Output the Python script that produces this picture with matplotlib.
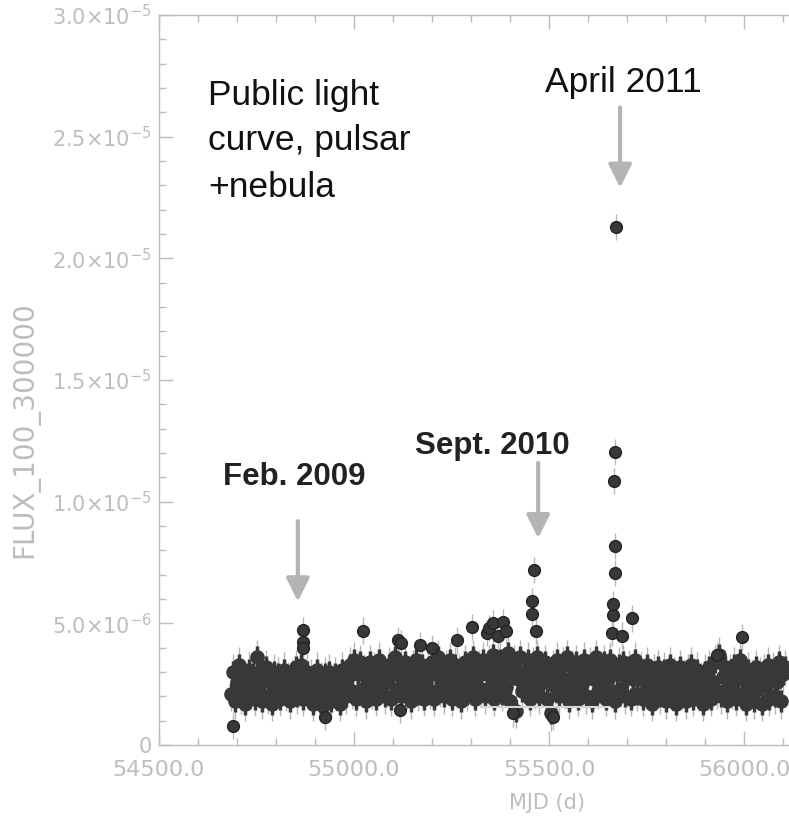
import numpy as np
import matplotlib
matplotlib.use("Agg")
import matplotlib.pyplot as plt
from matplotlib.ticker import MultipleLocator, FixedLocator

# ---------------- data (flux in units of 1e-6) ----------------
BIN_START = 54685      # MJD of first 5-day bin
BIN_DAYS = 5
band_flux = [
    2.1, 3.0, 1.8, 2.6, 3.3, 2.0, 2.8, 1.7, 2.5, 3.1,
    2.2, 2.9, 1.9, 3.6, 2.4, 3.0, 1.8, 2.7, 3.2, 2.0,
    2.6, 1.7, 3.0, 2.3, 2.9, 1.9, 2.5, 3.1, 2.1, 2.7,
    1.8, 2.8, 2.3, 3.2, 2.0, 2.6, 3.3, 1.9, 2.4, 3.0,
    2.2, 2.8, 1.7, 2.5, 3.1, 2.0, 2.7, 1.6, 2.9, 2.3,
    3.0, 1.8, 2.5, 2.9, 2.1, 2.6, 1.7, 3.1, 2.4, 2.0,
    2.8, 3.3, 2.2, 3.5, 1.9, 2.9, 3.4, 2.3, 3.0, 1.8,
    2.7, 3.4, 2.2, 3.1, 1.9, 2.8, 3.5, 2.4, 3.0, 2.0,
    2.6, 3.3, 1.9, 2.9, 3.6, 2.3, 3.1, 2.0, 2.7, 3.4,
    2.2, 2.9, 1.8, 3.2, 2.5, 3.5, 2.1, 2.8, 3.3, 1.9,
    2.6, 3.1, 2.2, 3.4, 1.9, 2.9, 3.6, 2.3, 2.8, 2.0,
    3.2, 2.5, 3.5, 1.9, 2.8, 3.3, 2.2, 3.0, 1.8, 2.7,
    3.4, 2.1, 3.0, 2.5, 3.6, 1.9, 2.8, 3.2, 2.3, 3.5,
    2.0, 2.9, 3.4, 2.4, 3.7, 1.9, 3.0, 2.6, 3.5, 2.1,
    3.2, 2.4, 3.8, 1.8, 2.9, 3.4, 1.4, 2.7, 3.6, 2.2,
    3.0, 2.5, 3.5, 1.9, 2.8, 3.3, 2.2, 3.6, 2.0, 3.1,
    2.6, 3.4, 1.9, 2.9, 1.3, 3.2, 2.4, 3.5, 2.0, 2.8,
    3.3, 2.2, 3.6, 1.8, 2.7, 3.2, 2.3, 3.4, 1.9, 3.0,
    2.5, 3.5, 2.0, 2.9, 3.3, 1.8, 2.7, 3.6, 2.2, 3.1,
    2.4, 3.4, 1.9, 2.8, 3.5, 2.2, 3.0, 1.8, 2.9, 3.3,
    2.3, 3.4, 2.0, 2.8, 3.2, 1.9, 2.7, 3.5, 2.1, 2.9,
    3.1, 1.9, 2.6, 3.3, 2.2, 2.8, 1.7, 3.0, 2.4, 3.2,
    2.0, 2.7, 3.1, 1.8, 2.5, 3.3, 2.1, 2.9, 1.7, 2.6,
    3.2, 2.2, 2.8, 1.8, 3.0, 2.4, 3.3, 1.9, 2.6, 3.1,
    2.1, 2.7, 1.7, 3.0, 2.4, 3.2, 1.9, 2.6, 3.4, 2.2,
    3.7, 2.0, 2.8, 3.2, 1.8, 2.5, 3.0, 2.2, 3.3, 1.9,
    2.7, 3.5, 2.1, 2.9, 1.7, 3.1, 2.4, 2.8, 1.8, 3.2,
    2.3, 2.9, 1.7, 3.0, 2.5, 3.3, 1.9, 2.7, 3.1, 2.0,
    2.6, 3.4, 1.8, 2.9, 3.2,
]
FLUX_ERR = 0.45

# individual bright / faint points (flares and outliers)
extra_mjd = [54690, 54869, 54869, 54870, 54925, 55023, 55113, 55118, 55120,
             55170, 55200, 55264, 55303, 55341, 55345, 55356, 55370, 55382,
             55390, 55408, 55456, 55456, 55462, 55467, 55510,
             55662, 55664, 55664, 55669, 55669, 55667, 55669, 55672,
             55687, 55713, 55931, 55995]
extra_flux = [0.78, 4.73, 4.23, 4.00, 1.15, 4.70, 4.30, 1.45, 4.20,
              4.10, 4.00, 4.30, 4.85, 4.60, 4.80, 5.00, 4.50, 5.05,
              4.70, 1.30, 5.90, 5.40, 7.20, 4.70, 1.15,
              4.60, 5.35, 5.80, 7.07, 8.18, 10.85, 12.05, 21.30,
              4.50, 5.20, 3.70, 4.45]

# light reference segment seen in the band
ref_mjd = [55325, 55652]
ref_flux = [1.56, 1.56]

# annotations: (label, arrow MJD, arrow tail flux, arrow tip flux)
ann_labels = ["Feb. 2009", "Sept. 2010", "April 2011"]
ann_mjd = [54856, 55472, 55682]
ann_tail = [9.2, 11.6, 26.2]
ann_tip = [5.9, 8.5, 22.9]

y_ticks = [0, 5, 10, 15, 20, 25, 30]
y_ticklabels = ["0", r"$5.0{\times}10^{-6}$", r"$1.0{\times}10^{-5}$",
                r"$1.5{\times}10^{-5}$", r"$2.0{\times}10^{-5}$",
                r"$2.5{\times}10^{-5}$", r"$3.0{\times}10^{-5}$"]
x_ticks = [54500, 55000, 55500, 56000]
x_ticklabels = ["54500.0", "55000.0", "55500.0", "56000.0"]

# ---------------- figure ----------------
W, H = 789, 819
fig = plt.figure(figsize=(W / 100, H / 100), dpi=100)
ax = fig.add_axes([159 / W, 74 / H, 630 / W, 730 / H])

band_mjd = BIN_START + BIN_DAYS * np.arange(len(band_flux))
grey_axis = "#bcbcbc"
dot = "#383838"

# light outer error bars, dark inner ones (blurred scan look)
ax.errorbar(band_mjd, band_flux, yerr=FLUX_ERR * 1.6, fmt="none",
            ecolor="#b4b4b4", elinewidth=1.0, zorder=2)
ax.errorbar(band_mjd, band_flux, yerr=FLUX_ERR, fmt="none",
            ecolor=dot, elinewidth=2.5, zorder=3)
ax.plot(band_mjd, band_flux, "o", color=dot, ms=9.5, mec=dot, zorder=3)
ax.errorbar(extra_mjd, extra_flux, yerr=FLUX_ERR * 1.2, fmt="none",
            ecolor="#b8b8b8", elinewidth=1.0, zorder=2)
ax.plot(extra_mjd, extra_flux, "o", color=dot, ms=8.5, mec="#222222",
        zorder=4)
ax.plot(ref_mjd, ref_flux, "-", color="#d4d4d4", lw=1.5, zorder=5)

ax.set_xlim(54500, 56115)
ax.set_ylim(0, 30)

ax.xaxis.set_major_locator(FixedLocator(x_ticks))
ax.set_xticklabels(x_ticklabels)
ax.xaxis.set_minor_locator(MultipleLocator(100))
ax.yaxis.set_major_locator(FixedLocator(y_ticks))
ax.set_yticklabels(y_ticklabels)
ax.yaxis.set_minor_locator(MultipleLocator(1))

ax.tick_params(which="both", direction="in", colors=grey_axis,
               labelcolor="#bdbdbd", top=True, right=False, width=1)
ax.tick_params(which="major", length=10)
ax.tick_params(which="minor", length=5)
ax.tick_params(axis="x", labelsize=16, pad=11)
ax.tick_params(axis="y", labelsize=15, pad=5)
for s in ["left", "bottom", "top"]:
    ax.spines[s].set_color(grey_axis)
    ax.spines[s].set_linewidth(1)
ax.spines["right"].set_visible(False)

fig.text(547 / W, 1 - 803 / H, "MJD (d)", color="#bdbdbd", fontsize=15,
         ha="center", va="center")
fig.text(25 / W, 1 - 430 / H, "FLUX_100_300000", color="#bdbdbd",
         fontsize=20, rotation=90, ha="center", va="center")

# annotation text
tfont = "Liberation Sans"
fig.text(208 / W, 1 - 105 / H, "Public light", fontsize=25.5, family=tfont,
         va="baseline", ha="left", color="#111111")
fig.text(208 / W, 1 - 150 / H, "curve, pulsar", fontsize=25.5, family=tfont,
         va="baseline", ha="left", color="#111111")
fig.text(208 / W, 1 - 197 / H, "+nebula", fontsize=25.5, family=tfont,
         va="baseline", ha="left", color="#111111")
fig.text(545 / W, 1 - 92 / H, ann_labels[2], fontsize=25.5, family=tfont,
         va="baseline", ha="left", color="#111111")
fig.text(415 / W, 1 - 454 / H, ann_labels[1], fontsize=22.5, family=tfont,
         weight="bold", va="baseline", ha="left", color="#222222")
fig.text(223 / W, 1 - 485 / H, ann_labels[0], fontsize=22.5, family=tfont,
         weight="bold", va="baseline", ha="left", color="#222222")

for m, t0, t1 in zip(ann_mjd, ann_tail, ann_tip):
    ax.annotate("", xy=(m, t1), xytext=(m, t0),
                arrowprops=dict(arrowstyle="-|>,head_length=0.7,head_width=0.35",
                                color="#b4b4b4", lw=3, mutation_scale=20,
                                shrinkA=0, shrinkB=0))

fig.savefig("out.png", dpi=100)
